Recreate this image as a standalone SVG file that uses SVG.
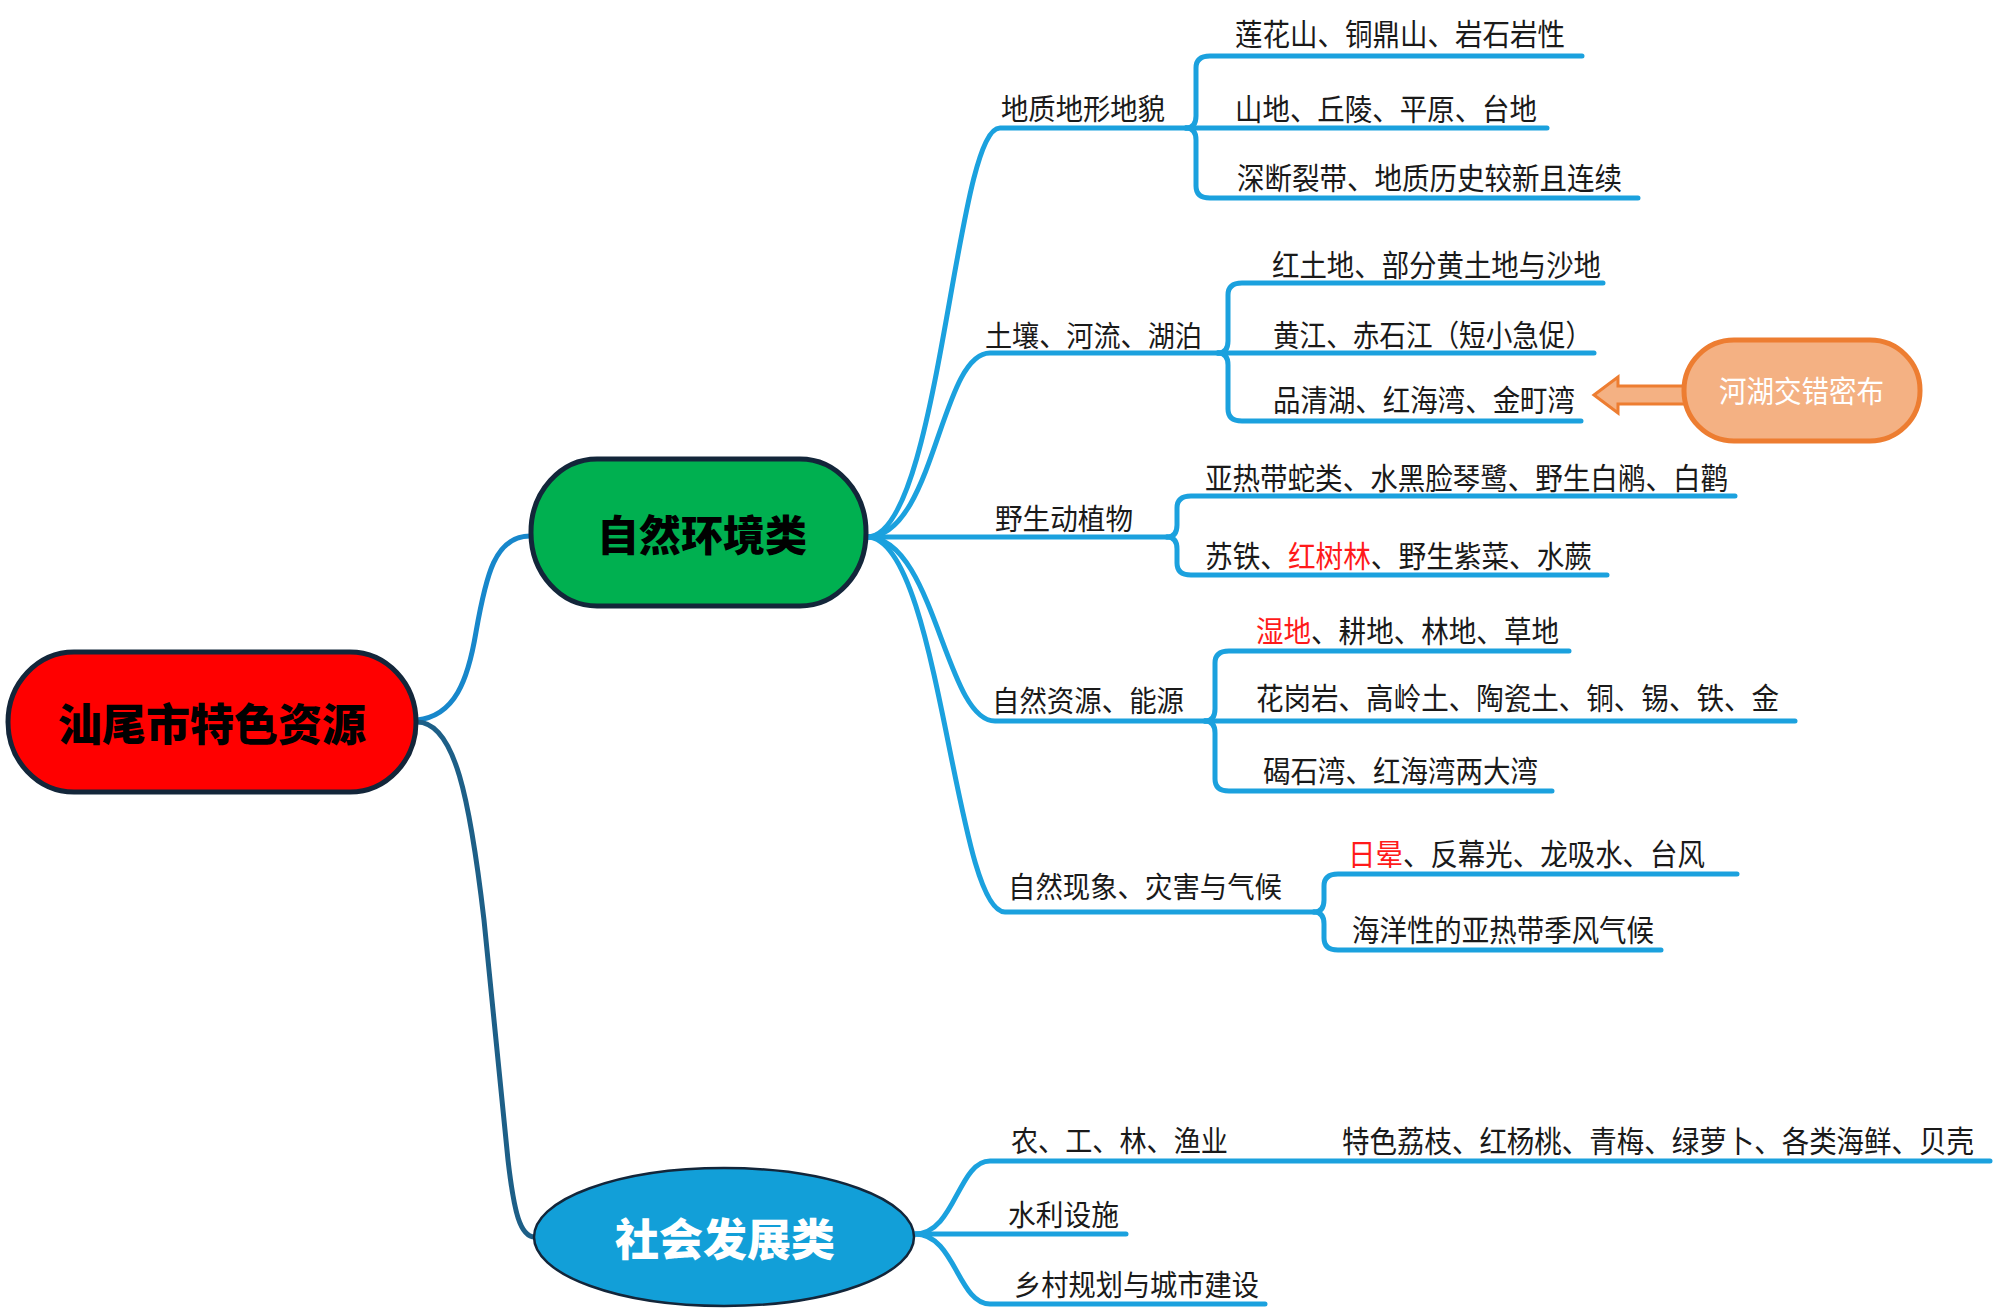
<svg xmlns="http://www.w3.org/2000/svg" width="2000" height="1314" viewBox="0 0 2000 1314">
<defs>
<style>
.t{font-family:"Noto Sans CJK SC","Noto Sans",sans-serif;font-size:30px;fill:#1a1a1a;dominant-baseline:central}
.lb{font-size:29px}
.red{fill:#ff1a1a}
.br{fill:none;stroke:#1BA1DE;stroke-width:5;stroke-linecap:round;stroke-linejoin:round}
.big{font-family:"Noto Sans CJK SC",sans-serif;font-weight:900;dominant-baseline:central;text-anchor:middle}
</style>
</defs>
<rect width="2000" height="1314" fill="#ffffff"/>

<g id="connectors">
<path d="M417,720 C455,716 468,680 476,632 C486,575 495,536 530,536" fill="none" stroke="#1787CB" stroke-width="5"/>
<path d="M417,722 C455,722 470,800 484,920 L508,1160 C514,1212 520,1237 535,1237" fill="none" stroke="#1D5F87" stroke-width="5"/>
<path class="br" d="M867,537 C940,537 955,128 1000,128 L1186,128"/>
<path class="br" d="M867,537 C935,537 940,353 990,353 L1218,353"/>
<path class="br" d="M867,537 L1167,537"/>
<path class="br" d="M867,537 C935,537 945,721 995,721 L1205,721"/>
<path class="br" d="M867,537 C940,537 955,912 1005,912 L1314,912"/>
<path class="br" d="M1186,128 Q1196,128 1196,116 L1196,68 Q1196,56 1210,56 L1582,56"/>
<path class="br" d="M1186,128 L1547,128"/>
<path class="br" d="M1186,128 Q1196,128 1196,140 L1196,186 Q1196,198 1210,198 L1638,198"/>
<path class="br" d="M1218,353 Q1228,353 1228,341 L1228,295 Q1228,283 1242,283 L1603,283"/>
<path class="br" d="M1218,353 L1594,353"/>
<path class="br" d="M1218,353 Q1228,353 1228,365 L1228,409 Q1228,421 1242,421 L1581,421"/>
<path class="br" d="M1167,537 Q1177,537 1177,525 L1177,508 Q1177,496 1191,496 L1735,496"/>
<path class="br" d="M1167,537 Q1177,537 1177,549 L1177,563 Q1177,575 1191,575 L1607,575"/>
<path class="br" d="M1205,721 Q1215,721 1215,709 L1215,663 Q1215,651 1229,651 L1569,651"/>
<path class="br" d="M1205,721 L1795,721"/>
<path class="br" d="M1205,721 Q1215,721 1215,733 L1215,779 Q1215,791 1229,791 L1552,791"/>
<path class="br" d="M1314,912 Q1324,912 1324,900 L1324,886 Q1324,874 1338,874 L1737,874"/>
<path class="br" d="M1314,912 Q1324,912 1324,924 L1324,938 Q1324,950 1338,950 L1661,950"/>
<path class="br" d="M915,1234 C955,1234 958,1161 990,1161 L1990,1161"/>
<path class="br" d="M915,1234 L1126,1234"/>
<path class="br" d="M915,1234 C955,1234 958,1304 990,1304 L1265,1304"/>
<path d="M1594,395 L1618,377 L1618,386 L1690,386 L1690,404 L1618,404 L1618,413 Z" fill="#F4B183" stroke="#ED7D31" stroke-width="3" stroke-linejoin="miter"/>
</g>

<g id="root">
<rect x="8" y="652" width="408" height="140" rx="66" ry="70" fill="#FF0000" stroke="#13263A" stroke-width="5"/>
<text class="big" x="212" y="722" font-size="44" fill="#000">汕尾市特色资源</text>
</g>

<g id="nature">
<rect x="531" y="459" width="335" height="147" rx="66" ry="73" fill="#00B050" stroke="#13263A" stroke-width="5"/>
<text class="big" x="702" y="532" font-size="42" fill="#000">自然环境类</text>
</g>

<g id="society">
<ellipse cx="724" cy="1237" rx="190" ry="69" fill="#129FD8" stroke="#13263A" stroke-width="2.5"/>
<text class="big" x="725" y="1237" font-size="44" fill="#fff">社会发展类</text>
</g>

<g id="note">
<rect x="1684" y="340" width="236" height="101" rx="50" ry="50" fill="#F4B183" stroke="#ED7D31" stroke-width="5"/>
<text class="t" x="1719" y="389" font-size="28" textLength="165" lengthAdjust="spacingAndGlyphs" style="fill:#ffffff">河湖交错密布</text>
</g>

<g id="b-geo">
<text class="t lb" x="1001" y="107" textLength="164" lengthAdjust="spacingAndGlyphs">地质地形地貌</text>
<text class="t" x="1235" y="32" textLength="330" lengthAdjust="spacingAndGlyphs">莲花山、铜鼎山、岩石岩性</text>
<text class="t" x="1235" y="107" textLength="302" lengthAdjust="spacingAndGlyphs">山地、丘陵、平原、台地</text>
<text class="t" x="1237" y="176" textLength="385" lengthAdjust="spacingAndGlyphs">深断裂带、地质历史较新且连续</text>
</g>

<g id="b-soil">
<text class="t lb" x="985" y="334" textLength="217" lengthAdjust="spacingAndGlyphs">土壤、河流、湖泊</text>
<text class="t" x="1272" y="263" textLength="329" lengthAdjust="spacingAndGlyphs">红土地、部分黄土地与沙地</text>
<text class="t" x="1273" y="333" textLength="319" lengthAdjust="spacingAndGlyphs">黄江、赤石江（短小急促）</text>
<text class="t" x="1273" y="398" textLength="302" lengthAdjust="spacingAndGlyphs">品清湖、红海湾、金町湾</text>
</g>

<g id="b-wild">
<text class="t lb" x="995" y="517" textLength="138" lengthAdjust="spacingAndGlyphs">野生动植物</text>
<text class="t" x="1205" y="476" textLength="523" lengthAdjust="spacingAndGlyphs">亚热带蛇类、水黑脸琴鹭、野生白鹇、白鹳</text>
<text class="t" x="1205" y="554" textLength="387" lengthAdjust="spacingAndGlyphs">苏铁、<tspan class="red">红树林</tspan>、野生紫菜、水蕨</text>
</g>

<g id="b-res">
<text class="t lb" x="992" y="699" textLength="192" lengthAdjust="spacingAndGlyphs">自然资源、能源</text>
<text class="t" x="1256" y="629" textLength="303" lengthAdjust="spacingAndGlyphs"><tspan class="red">湿地</tspan>、耕地、林地、草地</text>
<text class="t" x="1256" y="696" textLength="523" lengthAdjust="spacingAndGlyphs">花岗岩、高岭土、陶瓷土、铜、锡、铁、金</text>
<text class="t" x="1263" y="769" textLength="275" lengthAdjust="spacingAndGlyphs">碣石湾、红海湾两大湾</text>
</g>

<g id="b-phen">
<text class="t lb" x="1008" y="885" textLength="274" lengthAdjust="spacingAndGlyphs">自然现象、灾害与气候</text>
<text class="t" x="1348" y="852" textLength="357" lengthAdjust="spacingAndGlyphs"><tspan class="red">日晕</tspan>、反幕光、龙吸水、台风</text>
<text class="t" x="1352" y="928" textLength="302" lengthAdjust="spacingAndGlyphs">海洋性的亚热带季风气候</text>
</g>

<g id="b-agri">
<text class="t lb" x="1011" y="1139" textLength="217" lengthAdjust="spacingAndGlyphs">农、工、林、渔业</text>
<text class="t" x="1342" y="1139" textLength="632" lengthAdjust="spacingAndGlyphs">特色荔枝、红杨桃、青梅、绿萝卜、各类海鲜、贝壳</text>
</g>

<g id="b-water">
<text class="t lb" x="1008" y="1213" textLength="111" lengthAdjust="spacingAndGlyphs">水利设施</text>
</g>

<g id="b-city">
<text class="t lb" x="1014" y="1283" textLength="245" lengthAdjust="spacingAndGlyphs">乡村规划与城市建设</text>
</g>
</svg>
